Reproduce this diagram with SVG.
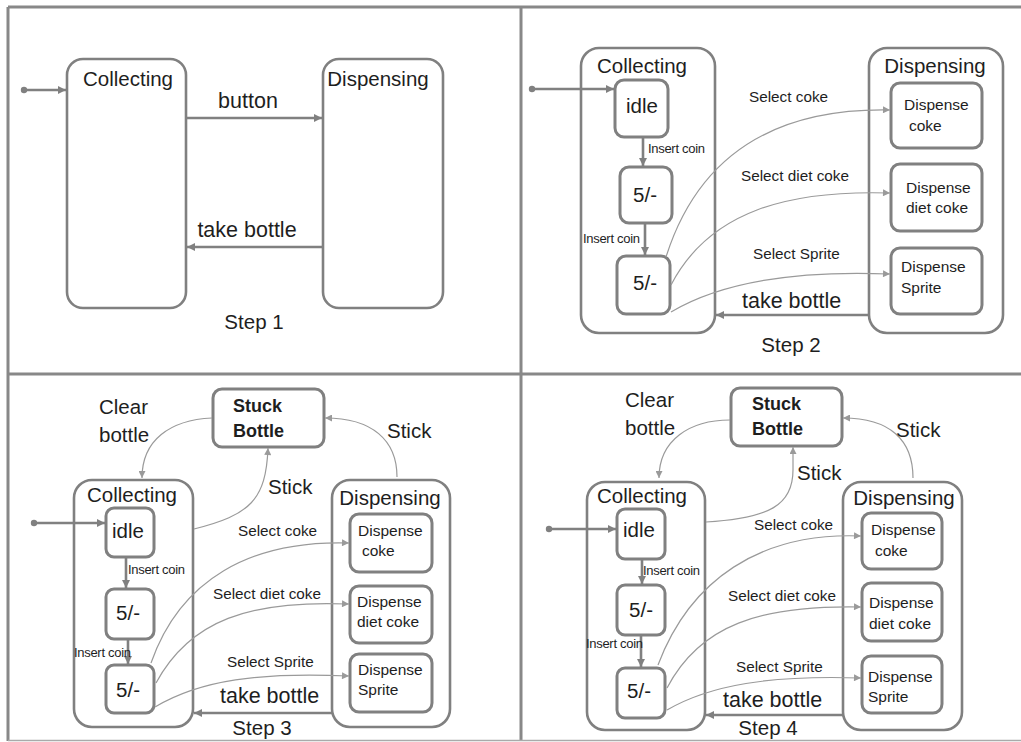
<svg xmlns="http://www.w3.org/2000/svg" width="1021" height="742" viewBox="0 0 1021 742">
<style>
text{font-family:"Liberation Sans",Arial,sans-serif;fill:#1e1e1e}
.big{font-size:20.5px}
.lbl{font-size:21.5px}
.sel{font-size:15.3px}
.ins{font-size:13px;letter-spacing:-0.3px}
.disp{font-size:15.5px}
.st{font-size:20.5px}
.bold{font-size:18px;font-weight:bold}
.mid{text-anchor:middle}
.box{fill:#fff;stroke:#808080;stroke-width:2.6}
.inner{fill:#fff;stroke:#808080;stroke-width:3}
.thick{fill:none;stroke:#808080;stroke-width:2.6}
.thin{fill:none;stroke:#9a9a9a;stroke-width:1.2}
.frame{stroke:#888;stroke-width:3}
</style>
<defs>
<marker id="ah" viewBox="0 0 10 10" refX="10" refY="5" markerWidth="9" markerHeight="8" markerUnits="userSpaceOnUse" orient="auto"><path d="M0,0 L10,5 L0,10 z" fill="#808080"/></marker>
<marker id="ahs" viewBox="0 0 10 10" refX="10" refY="5" markerWidth="12" markerHeight="7" markerUnits="userSpaceOnUse" orient="auto"><path d="M0,0 L10,5 L0,10 z" fill="#9a9a9a"/></marker>
</defs>
<rect x="0" y="0" width="1021" height="742" fill="#fff"/>
<g id="frame">
<line class="frame" x1="8" y1="7" x2="1021" y2="7"/>
<line class="frame" x1="8" y1="7" x2="8" y2="741"/>
<line class="frame" x1="521" y1="7" x2="521" y2="741"/>
<line class="frame" x1="8" y1="374" x2="1021" y2="374"/>
<line stroke="#aaa" stroke-width="1.5" x1="8" y1="740.5" x2="1021" y2="740.5"/>
</g>

<!-- Step 1 -->
<g id="s1-collecting"><rect class="box" x="67" y="59" width="119" height="249" rx="16"/><text class="big mid" x="128" y="86">Collecting</text></g>
<g id="s1-dispensing"><rect class="box" x="323" y="59" width="120" height="249" rx="16"/><text class="big mid" x="378" y="86">Dispensing</text></g>
<g id="s1-connectors">
<circle cx="24" cy="90" r="3.2" fill="#808080"/>
<line class="thick" x1="24" y1="90" x2="66" y2="90" marker-end="url(#ah)"/>
<line class="thick" x1="187" y1="118" x2="322" y2="118" marker-end="url(#ah)"/>
<line class="thick" x1="323" y1="247" x2="187" y2="247" marker-end="url(#ah)"/>
</g>
<g id="s1-labels">
<text class="lbl mid" x="248" y="108">button</text>
<text class="lbl mid" x="247" y="237">take bottle</text>
<text class="st mid" x="254" y="329">Step 1</text>
</g>

<!-- Step 2 -->
<g id="s2-collecting"><rect class="box" x="581" y="48" width="134" height="285" rx="18"/><text class="big mid" x="642" y="73">Collecting</text></g>
<g id="s2-dispensing"><rect class="box" x="869" y="48" width="134" height="285" rx="18"/><text class="big mid" x="935" y="73">Dispensing</text></g>
<g id="s2-idle"><rect class="inner" x="615" y="80" width="53" height="57" rx="9"/><text class="big mid" x="642" y="113">idle</text></g>
<g id="s2-5a"><rect class="inner" x="620" y="167" width="52" height="56" rx="9"/><text class="big mid" x="645" y="202">5/-</text></g>
<g id="s2-5b"><rect class="inner" x="617" y="256" width="53" height="58" rx="9"/><text class="big mid" x="645" y="290">5/-</text></g>
<g id="s2-coke"><rect class="inner" x="891" y="83" width="91" height="65" rx="9"/><text class="disp" x="904" y="110">Dispense</text><text class="disp" x="909" y="131">coke</text></g>
<g id="s2-diet"><rect class="inner" x="891" y="164" width="91" height="67" rx="9"/><text class="disp" x="906" y="193">Dispense</text><text class="disp" x="906" y="213">diet coke</text></g>
<g id="s2-sprite"><rect class="inner" x="891" y="248" width="91" height="66" rx="9"/><text class="disp" x="901" y="272">Dispense</text><text class="disp" x="901" y="293">Sprite</text></g>
<g id="s2-connectors">
<circle cx="532" cy="89" r="3.2" fill="#808080"/>
<line class="thick" x1="532" y1="89" x2="614" y2="89" marker-end="url(#ah)"/>
<line class="thick" x1="643" y1="138" x2="643" y2="166" marker-end="url(#ah)"/>
<line class="thick" x1="645" y1="224" x2="645" y2="255" marker-end="url(#ah)"/>
<path class="thin" d="M666,257 C700,150 780,108 890,110" marker-end="url(#ahs)"/>
<path class="thin" d="M671,285 C710,210 790,190 890,193" marker-end="url(#ahs)"/>
<path class="thin" d="M671,312 C720,283 790,270 890,274" marker-end="url(#ahs)"/>
<line class="thick" x1="869" y1="315" x2="716" y2="315" marker-end="url(#ah)"/>
</g>
<g id="s2-labels">
<text class="ins" x="648" y="153">Insert coin</text>
<text class="ins" x="583" y="243">Insert coin</text>
<text class="sel" x="749" y="102">Select coke</text>
<text class="sel" x="741" y="181">Select diet coke</text>
<text class="sel" x="753" y="259">Select Sprite</text>
<text class="lbl" x="742" y="308">take bottle</text>
<text class="st mid" x="791" y="352">Step 2</text>
</g>

<!-- Step 3 -->
<g id="s3-stuck"><rect class="inner" x="213" y="389" width="111" height="58" rx="9"/><text class="bold" x="233" y="412">Stuck</text><text class="bold" x="233" y="437">Bottle</text></g>
<g id="s3-collecting"><rect class="box" x="74" y="480" width="119" height="247" rx="18"/><text class="big mid" x="132" y="502">Collecting</text></g>
<g id="s3-dispensing"><rect class="box" x="332" y="480" width="118" height="247" rx="18"/><text class="big mid" x="390" y="505">Dispensing</text></g>
<g id="s3-idle"><rect class="inner" x="106" y="508" width="48" height="49" rx="8"/><text class="big mid" x="128" y="538">idle</text></g>
<g id="s3-5a"><rect class="inner" x="106" y="589" width="48" height="50" rx="8"/><text class="big mid" x="128" y="620">5/-</text></g>
<g id="s3-5b"><rect class="inner" x="106" y="665" width="48" height="48" rx="8"/><text class="big mid" x="128" y="697">5/-</text></g>
<g id="s3-coke"><rect class="inner" x="350" y="514" width="82" height="58" rx="9"/><text class="disp" x="358" y="536">Dispense</text><text class="disp" x="362" y="556">coke</text></g>
<g id="s3-diet"><rect class="inner" x="350" y="586" width="82" height="57" rx="9"/><text class="disp" x="357" y="607">Dispense</text><text class="disp" x="357" y="627">diet coke</text></g>
<g id="s3-sprite"><rect class="inner" x="350" y="654" width="82" height="58" rx="9"/><text class="disp" x="358" y="675">Dispense</text><text class="disp" x="358" y="695">Sprite</text></g>
<g id="s3-connectors">
<circle cx="34" cy="523" r="3.2" fill="#808080"/>
<line class="thick" x1="34" y1="523" x2="105" y2="523" marker-end="url(#ah)"/>
<line class="thick" x1="126" y1="558" x2="126" y2="588" marker-end="url(#ah)"/>
<line class="thick" x1="128" y1="640" x2="128" y2="664" marker-end="url(#ah)"/>
<path class="thin" d="M151,663 C180,580 250,540 349,543" marker-end="url(#ahs)"/>
<path class="thin" d="M156,683 C190,620 250,600 349,604" marker-end="url(#ahs)"/>
<path class="thin" d="M155,707 C200,680 260,672 349,676" marker-end="url(#ahs)"/>
<line class="thick" x1="332" y1="713" x2="194" y2="713" marker-end="url(#ah)"/>
<path class="thin" d="M212,418 C170,420 142,440 142,478" marker-end="url(#ahs)"/>
<path class="thin" d="M397,477 C397,440 372,418 325,418" marker-end="url(#ahs)"/>
<path class="thin" d="M194,529 C250,515 266,500 268,448" marker-end="url(#ahs)"/>
</g>
<g id="s3-labels">
<text class="big" x="99" y="414">Clear</text>
<text class="big" x="99" y="442">bottle</text>
<text class="big" x="387" y="438">Stick</text>
<text class="big" x="268" y="494">Stick</text>
<text class="ins" x="128" y="574">Insert coin</text>
<text class="ins" x="74" y="657">Insert coin</text>
<text class="sel" x="238" y="536">Select coke</text>
<text class="sel" x="213" y="599">Select diet coke</text>
<text class="sel" x="227" y="667">Select Sprite</text>
<text class="lbl" x="220" y="703">take bottle</text>
<text class="st mid" x="262" y="735">Step 3</text>
</g>

<!-- Step 4 -->
<g id="s4-stuck"><rect class="inner" x="731" y="388" width="111" height="58" rx="9"/><text class="bold" x="752" y="410">Stuck</text><text class="bold" x="752" y="435">Bottle</text></g>
<g id="s4-collecting"><rect class="box" x="587" y="482" width="118" height="248" rx="18"/><text class="big mid" x="642" y="503">Collecting</text></g>
<g id="s4-dispensing"><rect class="box" x="843" y="482" width="119" height="248" rx="18"/><text class="big mid" x="904" y="505">Dispensing</text></g>
<g id="s4-idle"><rect class="inner" x="617" y="509" width="48" height="50" rx="8"/><text class="big mid" x="639" y="537">idle</text></g>
<g id="s4-5a"><rect class="inner" x="617" y="585" width="48" height="50" rx="8"/><text class="big mid" x="641" y="617">5/-</text></g>
<g id="s4-5b"><rect class="inner" x="617" y="668" width="48" height="50" rx="8"/><text class="big mid" x="639" y="698">5/-</text></g>
<g id="s4-coke"><rect class="inner" x="862" y="513" width="80" height="56" rx="9"/><text class="disp" x="871" y="535">Dispense</text><text class="disp" x="875" y="556">coke</text></g>
<g id="s4-diet"><rect class="inner" x="862" y="583" width="80" height="58" rx="9"/><text class="disp" x="869" y="608">Dispense</text><text class="disp" x="869" y="629">diet coke</text></g>
<g id="s4-sprite"><rect class="inner" x="862" y="656" width="80" height="57" rx="9"/><text class="disp" x="868" y="682">Dispense</text><text class="disp" x="868" y="702">Sprite</text></g>
<g id="s4-connectors">
<circle cx="549" cy="529" r="3.2" fill="#808080"/>
<line class="thick" x1="549" y1="529" x2="616" y2="529" marker-end="url(#ah)"/>
<line class="thick" x1="642" y1="560" x2="642" y2="584" marker-end="url(#ah)"/>
<line class="thick" x1="641" y1="636" x2="641" y2="667" marker-end="url(#ah)"/>
<path class="thin" d="M658,665 C690,580 760,532 861,536" marker-end="url(#ahs)"/>
<path class="thin" d="M667,688 C700,625 760,605 861,607" marker-end="url(#ahs)"/>
<path class="thin" d="M667,710 C710,685 770,675 861,678" marker-end="url(#ahs)"/>
<line class="thick" x1="843" y1="715" x2="706" y2="715" marker-end="url(#ah)"/>
<path class="thin" d="M730,420 C690,420 659,440 659,478" marker-end="url(#ahs)"/>
<path class="thin" d="M913,478 C913,440 890,418 843,418" marker-end="url(#ahs)"/>
<path class="thin" d="M706,522 C770,518 793,505 793,470 L793,447" marker-end="url(#ahs)"/>
</g>
<g id="s4-labels">
<text class="big" x="625" y="407">Clear</text>
<text class="big" x="625" y="435">bottle</text>
<text class="big" x="896" y="437">Stick</text>
<text class="big" x="797" y="480">Stick</text>
<text class="ins" x="643" y="575">Insert coin</text>
<text class="ins" x="586" y="648">Insert coin</text>
<text class="sel" x="754" y="530">Select coke</text>
<text class="sel" x="728" y="601">Select diet coke</text>
<text class="sel" x="736" y="672">Select Sprite</text>
<text class="lbl" x="723" y="707">take bottle</text>
<text class="st mid" x="768" y="735">Step 4</text>
</g>
</svg>
